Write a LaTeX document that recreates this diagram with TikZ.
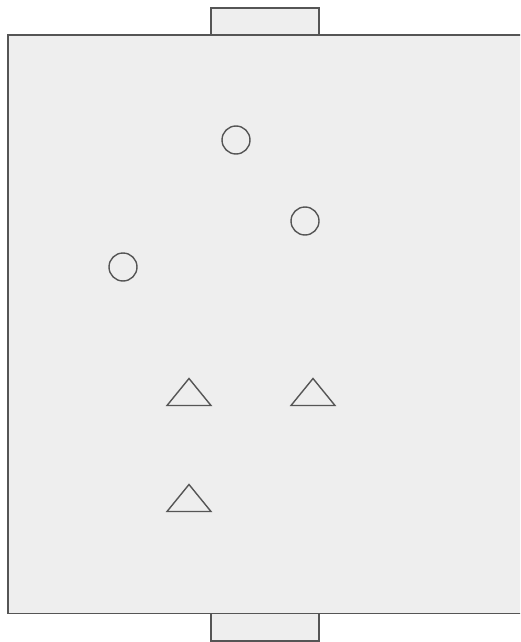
\documentclass[tikz,border=0pt]{standalone}
\usetikzlibrary{shapes.geometric,calc}
\definecolor{edge}{HTML}{555555}
\definecolor{panel}{HTML}{EEEEEE}
\tikzset{
  box/.style={draw=edge, fill=panel, line width=1.4pt},
  ring/.style={circle, draw=edge, line width=1.4pt, minimum size=28pt, inner sep=0pt},
  tri/.style={draw=edge, line width=1.4pt, line join=miter}
}
\begin{document}
\begin{tikzpicture}[x=1pt,y=-1pt]
\useasboundingbox (0,0) rectangle (520,642);
\clip (0,0) rectangle (520,642);
\draw[box] (211,8) rectangle (319,35);
\draw[box] (211,613.5) rectangle (319,641);
\draw[box] (8,35) rectangle (530,613.5);
\node[ring] (c1) at (236,140) {};
\node[ring] (c2) at (305,221) {};
\node[ring] (c3) at (123,267) {};
\coordinate (t1) at (189,392);
\coordinate (t2) at (313,392);
\coordinate (t3) at (189,498);
\foreach \t in {t1,t2,t3}{
  \draw[tri] ($(\t)+(-22,13.5)$) -- ($(\t)+(0,-13.5)$) -- ($(\t)+(22,13.5)$) -- cycle;
}
\end{tikzpicture}
\end{document}
